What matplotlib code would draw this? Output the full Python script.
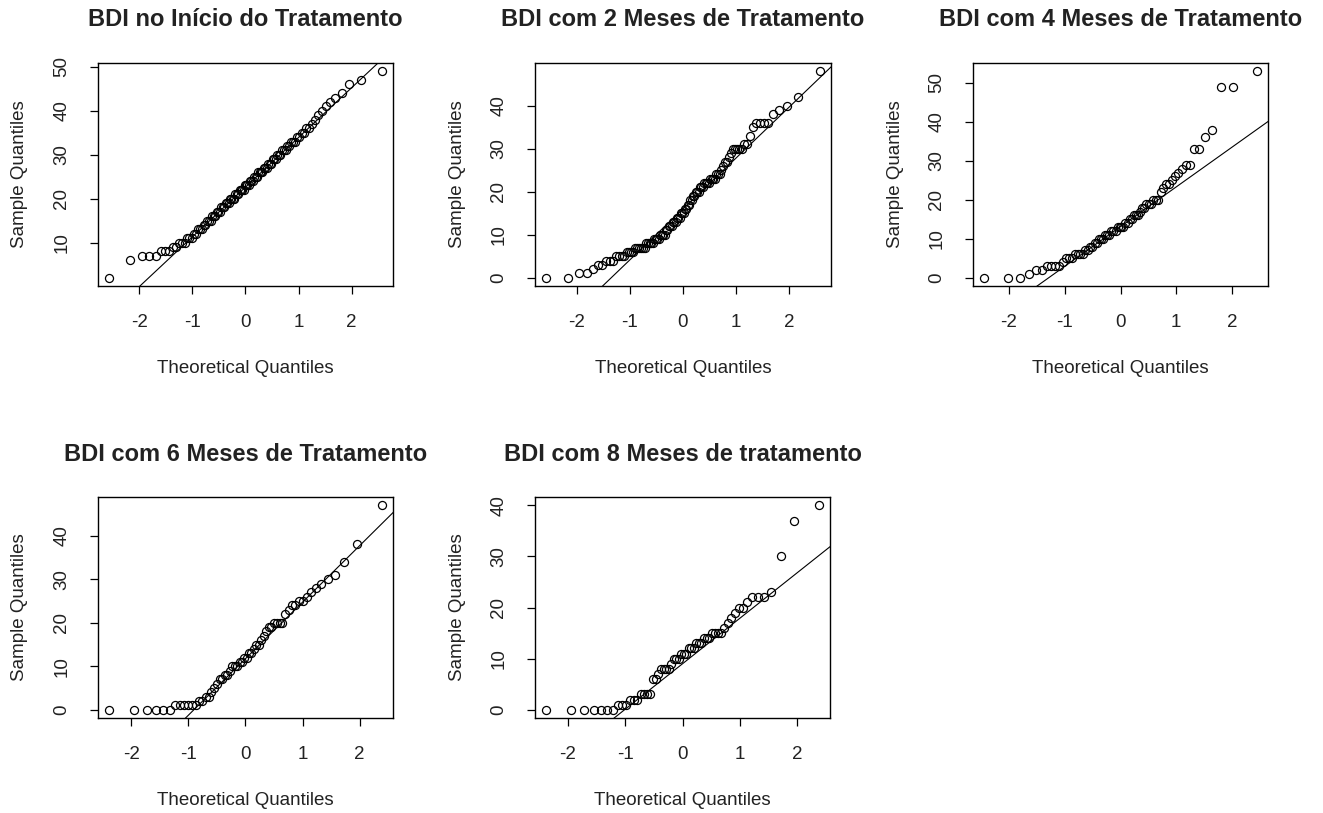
import numpy as np
import matplotlib
matplotlib.use("Agg")
import matplotlib.pyplot as plt
from statistics import NormalDist

plt.rcParams['font.family'] = ['Liberation Sans', 'DejaVu Sans']

titles = [
    "BDI no Início do Tratamento",
    "BDI com 2 Meses de Tratamento",
    "BDI com 4 Meses de Tratamento",
    "BDI com 6 Meses de Tratamento",
    "BDI com 8 Meses de tratamento",
]

bdi_inicio = [2, 6, 7, 7, 7, 8, 8, 8, 9, 9, 10, 10, 10, 11, 11, 11,
              12, 12, 13, 13, 13, 14, 14, 15, 15, 15, 16, 16, 16, 17, 17, 17,
              18, 18, 18, 19, 19, 19, 20, 20, 20, 20, 21, 21, 21, 22, 22, 22,
              22, 23, 23, 23, 23, 24, 24, 24, 25, 25, 25, 26, 26, 26, 26, 27,
              27, 27, 28, 28, 28, 29, 29, 29, 30, 30, 30, 31, 31, 31, 32, 32,
              33, 33, 33, 34, 34, 35, 35, 36, 36, 37, 38, 39, 40, 41, 42, 43,
              44, 46, 47, 49]

bdi_2m = [0, 0, 1, 1, 2, 3, 3, 4, 4, 4, 5, 5, 5, 5, 6, 6, 6, 6, 7, 7,
          7, 7, 7, 7, 8, 8, 8, 8, 8, 9, 9, 9, 9, 10, 10, 10, 10, 11, 11, 12,
          12, 12, 13, 13, 13, 14, 14, 14, 15, 15, 15, 16, 16, 17, 17, 18, 18, 19, 19, 20,
          20, 20, 21, 21, 21, 22, 22, 22, 22, 23, 23, 23, 23, 24, 24, 24, 25, 26, 27, 27,
          28, 29, 30, 30, 30, 30, 30, 31, 31, 33, 35, 36, 36, 36, 36, 38, 39, 40, 42, 48]

bdi_4m = [0, 0, 0, 1, 2, 2, 3, 3, 3, 3, 4, 5, 5, 5, 6, 6, 6, 6, 7, 7,
          8, 8, 9, 9, 10, 10, 10, 11, 11, 11, 12, 12, 12, 13, 13, 13, 13, 14, 14, 15,
          15, 16, 16, 16, 17, 18, 18, 19, 19, 19, 20, 20, 20, 22, 23, 24, 24, 25, 26, 27,
          28, 29, 29, 33, 33, 36, 38, 49, 49, 53]

bdi_6m = [0, 0, 0, 0, 0, 0, 1, 1, 1, 1, 1, 1, 2, 2, 3, 3, 4, 5, 6, 7,
          7, 8, 8, 9, 10, 10, 10, 11, 11, 12, 12, 13, 13, 14, 15, 15, 16, 17, 18, 19,
          19, 20, 20, 20, 20, 22, 23, 24, 24, 25, 25, 26, 27, 28, 29, 30, 31, 34, 38, 47]

bdi_8m = [0, 0, 0, 0, 0, 0, 0, 1, 1, 1, 2, 2, 2, 3, 3, 3, 3, 6, 6, 7,
          8, 8, 8, 8, 9, 10, 10, 10, 11, 11, 11, 12, 12, 12, 13, 13, 13, 14, 14, 14,
          15, 15, 15, 15, 16, 17, 18, 19, 20, 20, 21, 22, 22, 22, 23, 30, 37, 40]

series = [bdi_inicio, bdi_2m, bdi_4m, bdi_6m, bdi_8m]
x_ticks = [-2, -1, 0, 1, 2]
y_ticks = [[10, 20, 30, 40, 50], [0, 10, 20, 30, 40], [0, 10, 20, 30, 40, 50],
           [0, 10, 20, 30, 40], [0, 10, 20, 30, 40]]

W, H = 1323, 813
boxes = [(98, 63, 393, 286), (535, 63, 831, 286), (973, 63, 1268, 286),
         (98, 497, 393, 718), (535, 497, 830, 718)]

fig = plt.figure(figsize=(W / 100, H / 100), dpi=100)
nd = NormalDist()
txtc = '#222222'


def ppoints(n):
    a = 3 / 8 if n <= 10 else 0.5
    return [(i + 1 - a) / (n + 1 - 2 * a) for i in range(n)]


for vals, title, yt, (l, t, r, b) in zip(series, titles, y_ticks, boxes):
    ax = fig.add_axes([l / W, 1 - b / H, (r - l) / W, (b - t) / H])
    y = np.sort(np.array(vals, dtype=float))
    n = len(y)
    x = np.array([nd.inv_cdf(p) for p in ppoints(n)])
    ax.plot(x, y, linestyle='none', marker='o', markersize=5.8,
            markerfacecolor='none', markeredgecolor='black', markeredgewidth=0.9)
    q1, q3 = np.percentile(y, [25, 75])
    z1, z3 = nd.inv_cdf(0.25), nd.inv_cdf(0.75)
    slope = (q3 - q1) / (z3 - z1)
    inter = q1 - slope * z1
    ax.axline((0, inter), slope=slope, color='black', lw=0.8)
    xr = x.max() - x.min()
    yr = y.max() - y.min()
    ax.set_xlim(x.min() - 0.04 * xr, x.max() + 0.04 * xr)
    ax.set_ylim(y.min() - 0.04 * yr, y.max() + 0.04 * yr)
    ax.set_xticks(x_ticks)
    ax.set_xticklabels([str(v) for v in x_ticks])
    ax.set_yticks(yt)
    ax.set_yticklabels([str(v) for v in yt], rotation=90, va='center')
    ax.tick_params(axis='both', direction='out', length=6, width=0.9,
                   labelsize=13.5, colors='black', labelcolor=txtc)
    ax.tick_params(axis='x', pad=14)
    ax.tick_params(axis='y', pad=14)
    for s in ax.spines.values():
        s.set_linewidth(1.0)
        s.set_color('black')
    cx = (l + r) / 2
    cy = (t + b) / 2
    fig.text(cx / W, 1 - (t - 43) / H, title, ha='center', va='center',
             fontsize=17, fontweight='bold', color=txtc)
    fig.text(cx / W, 1 - (b + 82) / H, "Theoretical Quantiles", ha='center',
             va='center', fontsize=13.5, color=txtc)
    fig.text((l - 78) / W, 1 - cy / H, "Sample Quantiles", ha='center',
             va='center', rotation=90, fontsize=13.5, color=txtc)

fig.savefig("out.png", dpi=100)
